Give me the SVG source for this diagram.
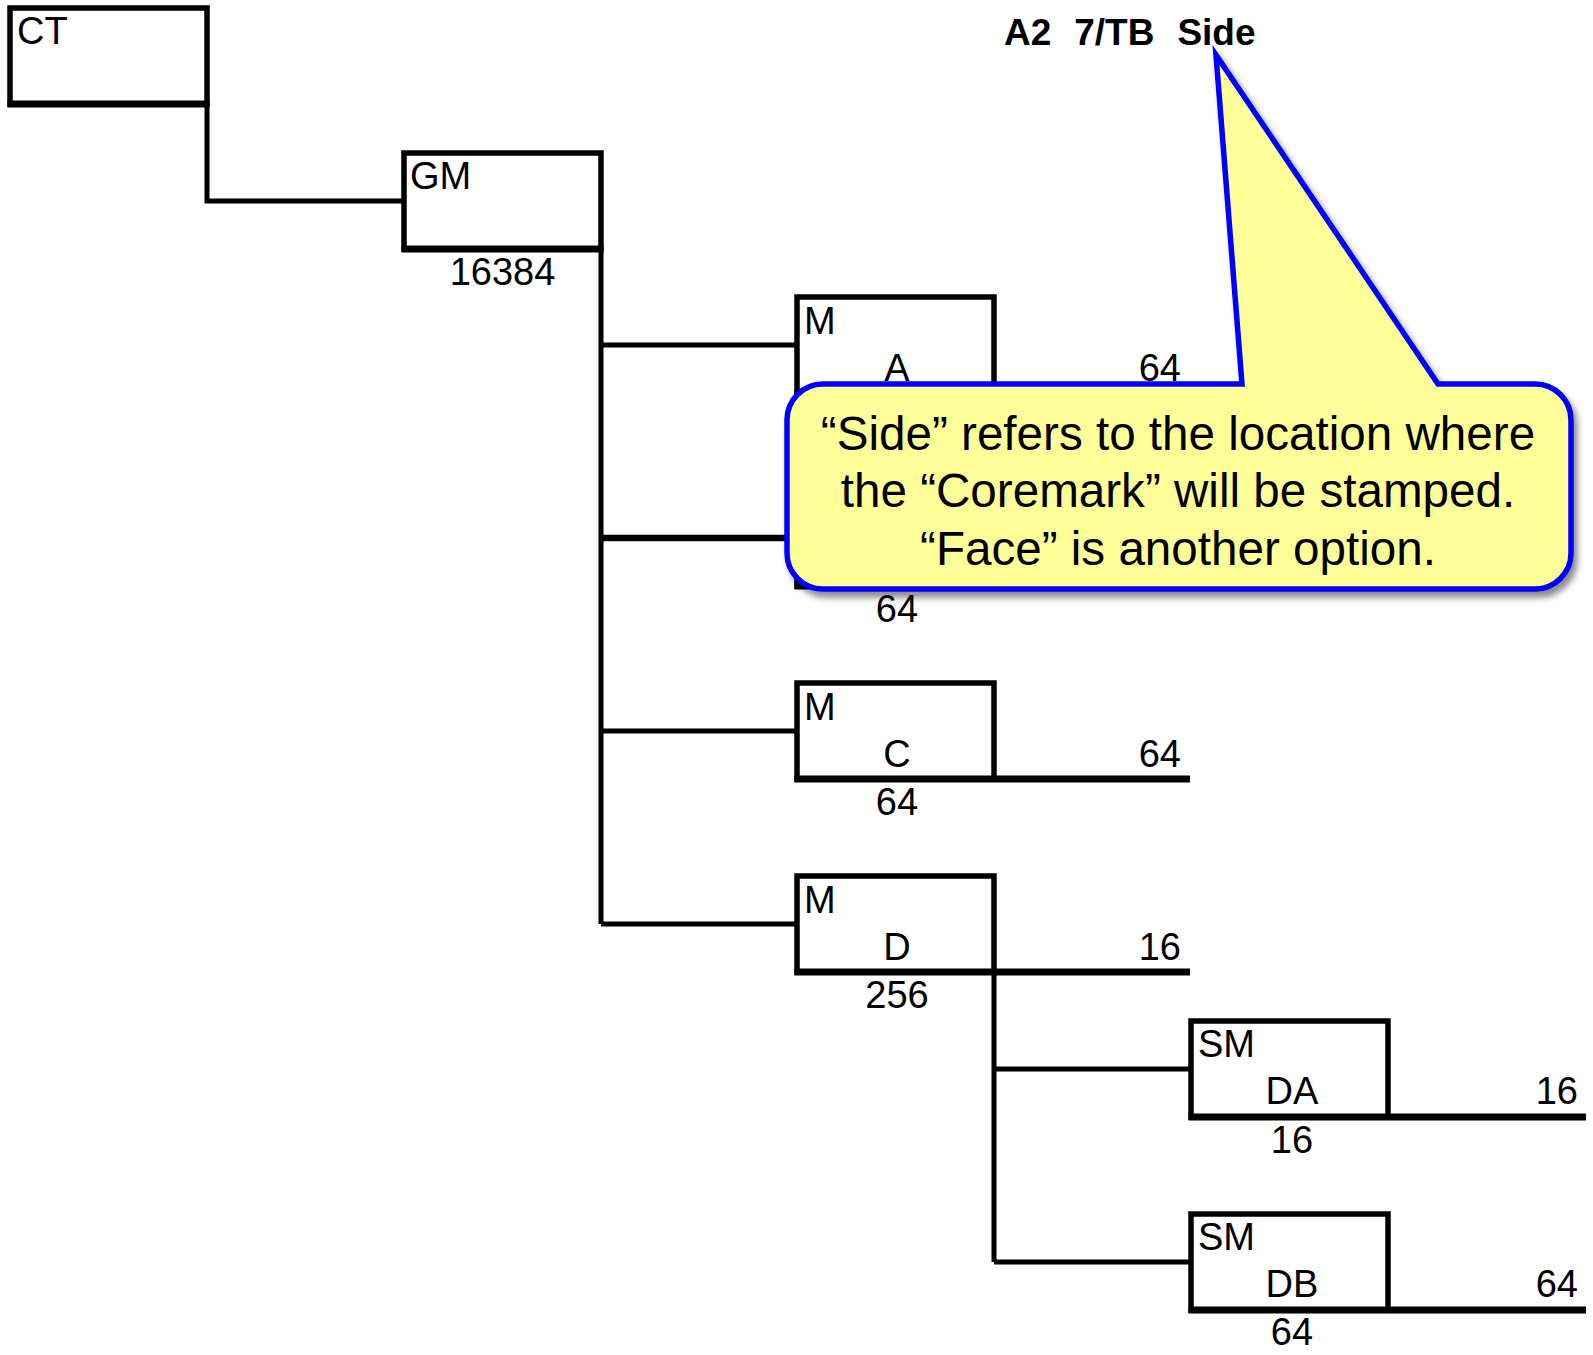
<svg xmlns="http://www.w3.org/2000/svg" width="1593" height="1355" viewBox="0 0 1593 1355">
  <style>
    .box { fill: none; stroke: #000; stroke-width: 5.5; }
    .base { stroke: #000; stroke-width: 7; fill: none; }
    .wire { fill: none; stroke: #000; stroke-width: 5; }
    .wire-heavy { fill: none; stroke: #000; stroke-width: 6.5; }
    .lbl { font-family: "Liberation Sans", Arial, sans-serif; font-size: 38px; fill: #000; }
    .mid { text-anchor: middle; }
    .end { text-anchor: end; }
    .title { font-family: "Liberation Sans", Arial, sans-serif; font-size: 37px; font-weight: bold; fill: #000; white-space: pre; word-spacing: 1.2px; }
    .note { font-family: "Liberation Sans", Arial, sans-serif; font-size: 47.6px; fill: #000; text-anchor: middle; }
    .bubble { fill: #FFFF99; stroke: #0000FF; stroke-width: 5.5; stroke-linejoin: miter; }
  </style>
  <defs>
    <filter id="shadow" x="-5%" y="-5%" width="115%" height="120%">
      <feDropShadow dx="4" dy="6" stdDeviation="3" flood-color="#000" flood-opacity="0.45"/>
    </filter>
  </defs>

  <rect width="1593" height="1355" fill="#fff"/>

  <!-- connectors -->
  <g id="connectors">
    <path class="wire" d="M207,104 V201 H404"/>
    <path class="wire" d="M601,249 V924"/>
    <path class="wire" d="M601,345 H797"/>
    <path class="wire-heavy" d="M601,538 H797"/>
    <path class="wire" d="M601,731 H797"/>
    <path class="wire" d="M601,924 H797"/>
    <path class="wire" d="M994,972 V1262"/>
    <path class="wire" d="M994,1069 H1191"/>
    <path class="wire" d="M994,1262 H1191"/>
  </g>

  <!-- tree nodes -->
  <g id="node-ct">
    <rect class="box" x="10" y="8" width="197" height="96"/>
    <line class="base" x1="7.5" y1="104" x2="209.5" y2="104"/>
    <text class="lbl" x="17" y="44">CT</text>
  </g>

  <g id="node-gm">
    <rect class="box" x="404" y="153" width="197" height="96"/>
    <line class="base" x1="401.5" y1="249" x2="603.5" y2="249"/>
    <text class="lbl" x="410" y="189">GM</text>
    <text class="lbl mid" x="502.5" y="285">16384</text>
  </g>

  <g id="node-ma">
    <rect class="box" x="797" y="297" width="197" height="96"/>
    <line class="base" x1="794.5" y1="393" x2="1190" y2="393"/>
    <text class="lbl" x="804" y="334">M</text>
    <text class="lbl mid" x="897" y="381">A</text>
    <text class="lbl end" x="1181" y="381">64</text>
  </g>

  <g id="node-mb">
    <rect class="box" x="797" y="490" width="197" height="96"/>
    <line class="base" x1="794.5" y1="586" x2="1190" y2="586"/>
    <text class="lbl mid" x="897" y="622">64</text>
  </g>

  <g id="node-mc">
    <rect class="box" x="797" y="683" width="197" height="96"/>
    <line class="base" x1="794.5" y1="779" x2="1190" y2="779"/>
    <text class="lbl" x="804" y="720">M</text>
    <text class="lbl mid" x="897" y="767">C</text>
    <text class="lbl end" x="1181" y="767">64</text>
    <text class="lbl mid" x="897" y="815">64</text>
  </g>

  <g id="node-md">
    <rect class="box" x="797" y="876" width="197" height="96"/>
    <line class="base" x1="794.5" y1="972" x2="1190" y2="972"/>
    <text class="lbl" x="804" y="913">M</text>
    <text class="lbl mid" x="897" y="960">D</text>
    <text class="lbl end" x="1181" y="960">16</text>
    <text class="lbl mid" x="897" y="1008">256</text>
  </g>

  <g id="node-da">
    <rect class="box" x="1191" y="1021" width="197" height="96"/>
    <line class="base" x1="1188.5" y1="1117" x2="1586" y2="1117"/>
    <text class="lbl" x="1198" y="1057">SM</text>
    <text class="lbl mid" x="1292" y="1104">DA</text>
    <text class="lbl end" x="1578" y="1104">16</text>
    <text class="lbl mid" x="1292" y="1153">16</text>
  </g>

  <g id="node-db">
    <rect class="box" x="1191" y="1214" width="197" height="96"/>
    <line class="base" x1="1188.5" y1="1310" x2="1586" y2="1310"/>
    <text class="lbl" x="1198" y="1250">SM</text>
    <text class="lbl mid" x="1292" y="1297">DB</text>
    <text class="lbl end" x="1578" y="1297">64</text>
    <text class="lbl mid" x="1292" y="1345">64</text>
  </g>

  <!-- heading -->
  <g id="heading">
    <text class="title" x="1004" y="45">A2  7/TB  Side</text>
  </g>

  <!-- callout bubble pointing at the heading -->
  <g id="callout">
    <path class="bubble" filter="url(#shadow)" d="M823,384 H1242 L1216,55 L1438,384 H1535 A36,36 0 0 1 1571,420 V553 A36,36 0 0 1 1535,589 H823 A36,36 0 0 1 787,553 V420 A36,36 0 0 1 823,384 Z"/>
    <text class="note" x="1178" y="450">“Side” refers to the location where</text>
    <text class="note" x="1178" y="507">the “Coremark” will be stamped.</text>
    <text class="note" x="1178" y="565">“Face” is another option.</text>
  </g>
</svg>
